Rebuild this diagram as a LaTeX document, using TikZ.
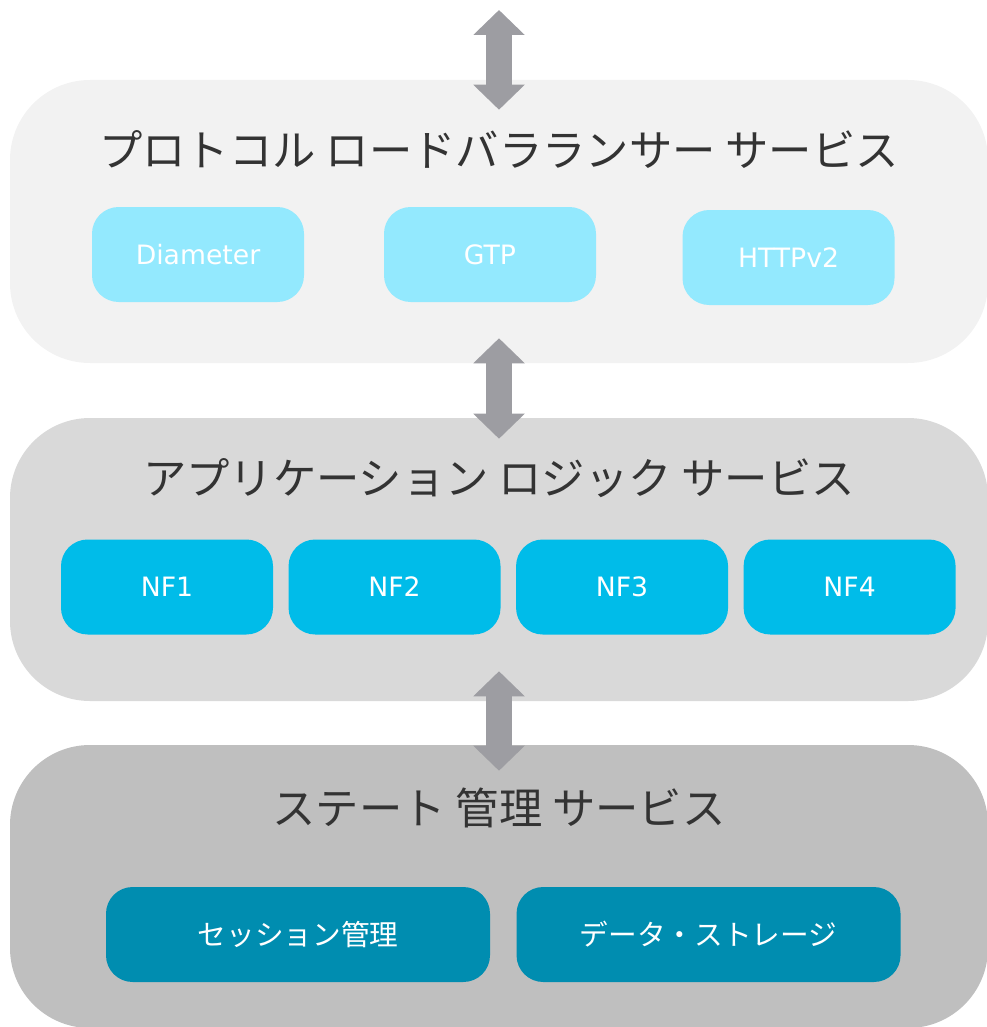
\documentclass[tikz,border=0pt]{standalone}
\usepackage{fontspec}
\setmainfont{Noto Sans CJK JP}
\newfontfamily\latinfont{DejaVu Sans}
\usepackage{tikz}
\usetikzlibrary{arrows.meta, positioning}

\definecolor{layerA}{HTML}{F2F2F2}
\definecolor{layerB}{HTML}{D9D9D9}
\definecolor{layerC}{HTML}{BFBFBF}
\definecolor{itemA}{HTML}{93E9FE}
\definecolor{itemB}{HTML}{00BCE9}
\definecolor{itemC}{HTML}{008DB0}
\definecolor{arrowgray}{HTML}{9D9DA2}
\definecolor{titlegray}{HTML}{333333}

\begin{document}
\begin{tikzpicture}[
  x=0.75pt, y=-0.75pt,
  layer/.style={
    rectangle,
    rounded corners=60pt,
    minimum width=733.5pt,
    minimum height=212.25pt,
    inner sep=0pt
  },
  item/.style={
    rectangle,
    rounded corners=20pt,
    minimum width=159pt,
    minimum height=71.25pt,
    text=white,
    font=\fontsize{20}{24}\selectfont
  },
  title/.style={font=\fontsize{32.5}{38}\selectfont, text=titlegray},
  link/.style={{Triangle[length=18.75pt,width=37.5pt]}-{Triangle[length=18.75pt,width=37.5pt]}, line width=19.5pt, draw=arrowgray}
]
\useasboundingbox (0,0) rectangle (987,1027);

% Layers (stacked top-down)
\node[layer, fill=layerA] (proto) at (499,221.5) {};
\node[layer, fill=layerB] (app) at (499,559.5) {};
\node[layer, fill=layerC] (state) at (499,886.5) {};

% Layer titles
\node[title] (protoTitle) at ([yshift=-52.5pt]proto.north) {プロトコル ロードバラランサー サービス};
\node[title] (appTitle) at ([yshift=-45pt]app.north) {アプリケーション ロジック サービス};
\node[title] (stateTitle) at ([yshift=-47.25pt]state.north) {ステート 管理 サービス};

% Protocol items
\node[item, fill=itemA, font=\latinfont\fontsize{20}{24}\selectfont] (diameter) at (198,254.5) {Diameter};
\node[item, fill=itemA, font=\latinfont\fontsize{20}{24}\selectfont] (gtp) at (490,254.5) {GTP};
\node[item, fill=itemA, font=\latinfont\fontsize{20}{24}\selectfont] (http) at (788.5,257.5) {HTTPv2};

% Network functions
\node[item, fill=itemB, font=\latinfont\fontsize{20}{24}\selectfont] (nf1) at (167,587) {NF1};
\node[item, fill=itemB, font=\latinfont\fontsize{20}{24}\selectfont, right=11.25pt of nf1] (nf2) {NF2};
\node[item, fill=itemB, font=\latinfont\fontsize{20}{24}\selectfont, right=11.25pt of nf2] (nf3) {NF3};
\node[item, fill=itemB, font=\latinfont\fontsize{20}{24}\selectfont, right=11.25pt of nf3] (nf4) {NF4};

% State items
\node[item, fill=itemC, minimum width=288pt, font=\fontsize{21.5}{25}\selectfont] (session) at (298,934.5) {セッション管理};
\node[item, fill=itemC, minimum width=288pt, font=\fontsize{21.5}{25}\selectfont, right=19.5pt of session] (storage) {データ・ストレージ};

% Arrows
\coordinate (entry) at (499,10);
\draw[link] (entry) -- ([yshift=-22.5pt]proto.north);
\draw[link] ([yshift=18.75pt]proto.south) -- ([yshift=-15.75pt]app.north);
\draw[link] ([yshift=22.5pt]app.south) -- ([yshift=-19.5pt]state.north);

\end{tikzpicture}
\end{document}
